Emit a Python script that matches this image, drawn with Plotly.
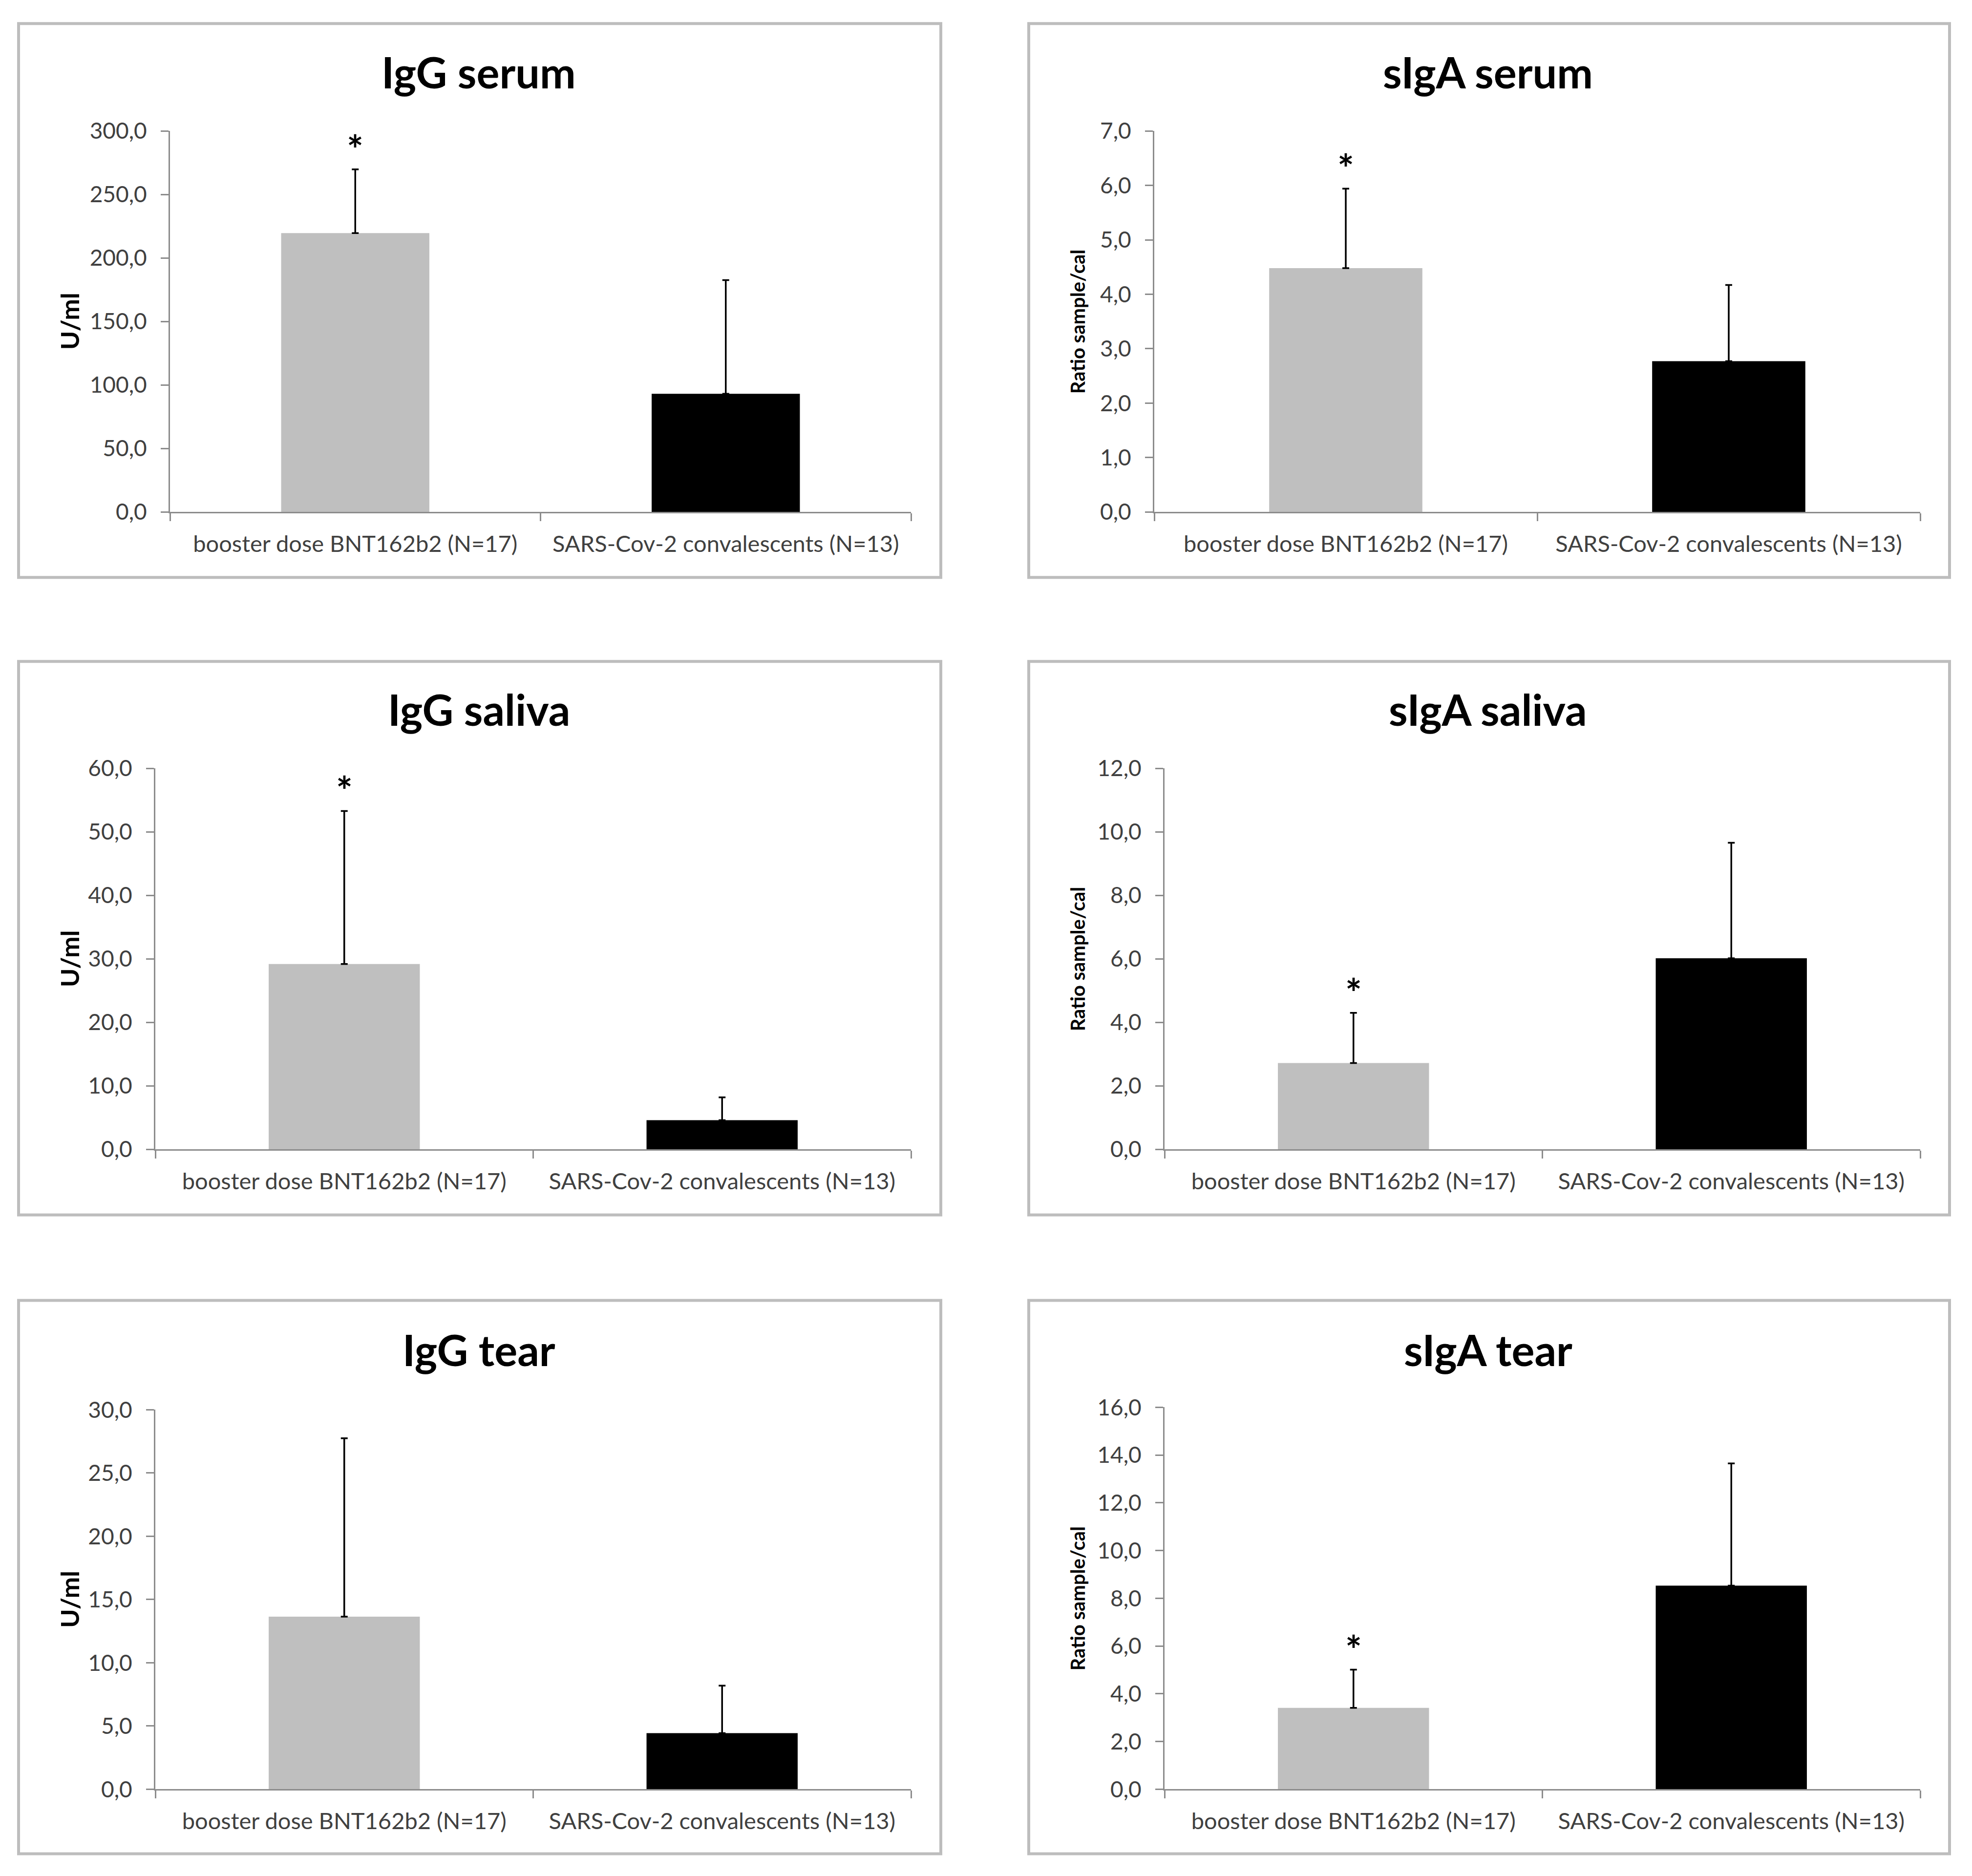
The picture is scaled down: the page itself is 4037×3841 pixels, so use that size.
import plotly.graph_objects as go

W, H = 4037, 3841

categories = ["booster dose BNT162b2 (N=17)", "SARS-Cov-2 convalescents (N=13)"]

titles = ["IgG serum", "sIgA serum", "IgG saliva", "sIgA saliva", "IgG tear", "sIgA tear"]
y_titles = ["U/ml", "Ratio sample/cal", "U/ml", "Ratio sample/cal", "U/ml", "Ratio sample/cal"]

igg_serum_mean = [219.6, 93.1]
igg_serum_sd = [50.2, 89.5]
siga_serum_mean = [4.48, 2.77]
siga_serum_sd = [1.46, 1.40]
igg_saliva_mean = [29.2, 4.6]
igg_saliva_sd = [24.1, 3.6]
siga_saliva_mean = [2.72, 6.02]
siga_saliva_sd = [1.58, 3.64]
igg_tear_mean = [13.65, 4.44]
igg_tear_sd = [14.1, 3.75]
siga_tear_mean = [3.41, 8.53]
siga_tear_sd = [1.60, 5.12]

y_max = [300, 7, 60, 12, 30, 16]
y_dtick = [50, 1, 10, 2, 5, 2]
significant = [True, True, True, True, False, True]  # asterisk on booster group

means = [igg_serum_mean, siga_serum_mean, igg_saliva_mean, siga_saliva_mean, igg_tear_mean, siga_tear_mean]
sds = [igg_serum_sd, siga_serum_sd, igg_saliva_sd, siga_saliva_sd, igg_tear_sd, siga_tear_sd]

bar_colors = ["#BFBFBF", "#000000"]


# page-offset compensation (target pixel -> figure pixel)
def cx(px):
    return px - 8


def cy(py):
    return (py - 36.8) / 0.9856


# layout geometry in target pixels (x0, x1, y_top, y_bottom)
plot_boxes = [
    (348, 1865, 268, 1048), (2363, 3931, 268, 1048),
    (318, 1865, 1573, 2353), (2384, 3931, 1573, 2353),
    (318, 1865, 2886, 3663), (2384, 3931, 2881, 3663),
]
frame_x = [(38, 1926), (2106, 3991)]
frame_y = [(48, 1182), (1354, 2487), (2662, 3795)]
title_x = [980, 3046]
title_y = [147, 1452, 2763]
ytitle_x = [142, 2206]

FONT = "Lato"
fig = go.Figure()
annotations = []
shapes = []

for i in range(6):
    ax = "" if i == 0 else str(i + 1)
    x0, x1, yt, yb = plot_boxes[i]
    col, row = i % 2, i // 2
    fig.add_trace(go.Bar(
        x=categories, y=means[i],
        marker=dict(color=bar_colors, line=dict(width=0)),
        error_y=dict(type="data", symmetric=False, array=sds[i], arrayminus=[0, 0],
                     color="#000000", thickness=3.5, width=7),
        xaxis="x" + ax, yaxis="y" + ax, showlegend=False,
    ))
    fig.layout["xaxis" + ax] = dict(
        domain=[cx(x0) / W, cx(x1) / W], anchor="y" + ax,
        type="category", range=[-0.5, 1.5],
        showline=True, linecolor="#8C8C8C", linewidth=3,
        ticks="outside", tickson="boundaries", ticklen=16, tickwidth=3, tickcolor="#8C8C8C",
        ticklabelstandoff=22,
        tickfont=dict(family=FONT, size=47, color="#404040"),
        showgrid=False, zeroline=False, fixedrange=True,
    )
    fig.layout["yaxis" + ax] = dict(
        domain=[1 - cy(yb) / H, 1 - cy(yt) / H], anchor="x" + ax,
        range=[0, y_max[i]], dtick=y_dtick[i], tick0=0, tickformat=".1f",
        showline=True, linecolor="#8C8C8C", linewidth=3,
        ticks="outside", ticklen=16, tickwidth=3, tickcolor="#8C8C8C",
        ticklabelstandoff=19,
        tickfont=dict(family=FONT, size=46, color="#404040"),
        showgrid=False, zeroline=False, fixedrange=True,
    )
    # panel title
    annotations.append(dict(
        text="<b>%s</b>" % titles[i], x=cx(title_x[col]) / W, y=1 - cy(title_y[row]) / H,
        xref="paper", yref="paper", showarrow=False, xanchor="center", yanchor="middle",
        font=dict(family=FONT, size=88, color="#000000"),
    ))
    # y axis title
    annotations.append(dict(
        text="<b>%s</b>" % y_titles[i], x=cx(ytitle_x[col]) / W, y=1 - cy((yt + yb) / 2) / H,
        xref="paper", yref="paper", showarrow=False, textangle=-90,
        xanchor="center", yanchor="middle",
        font=dict(family=FONT, size=52 if col == 0 else 40, color="#000000"),
    ))
    if significant[i]:
        annotations.append(dict(
            text="<b>*</b>", x=categories[0], y=means[i][0] + sds[i][0],
            xref="x" + ax, yref="y" + ax, showarrow=False, yshift=42,
            xanchor="center", yanchor="middle",
            font=dict(family=FONT, size=80, color="#000000"),
        ))

for r in range(3):
    for c in range(2):
        shapes.append(dict(
            type="rect", xref="paper", yref="paper",
            x0=cx(frame_x[c][0]) / W, x1=cx(frame_x[c][1]) / W,
            y0=1 - cy(frame_y[r][1]) / H, y1=1 - cy(frame_y[r][0]) / H,
            line=dict(color="#BDBDBD", width=6), fillcolor="rgba(0,0,0,0)", layer="below",
        ))

fig.update_layout(
    width=W, height=H, margin=dict(l=0, r=0, t=0, b=0),
    paper_bgcolor="white", plot_bgcolor="white",
    bargap=0.6, separators=", ",
    annotations=annotations, shapes=shapes,
    font=dict(family=FONT),
)

fig.write_html("out.html")
